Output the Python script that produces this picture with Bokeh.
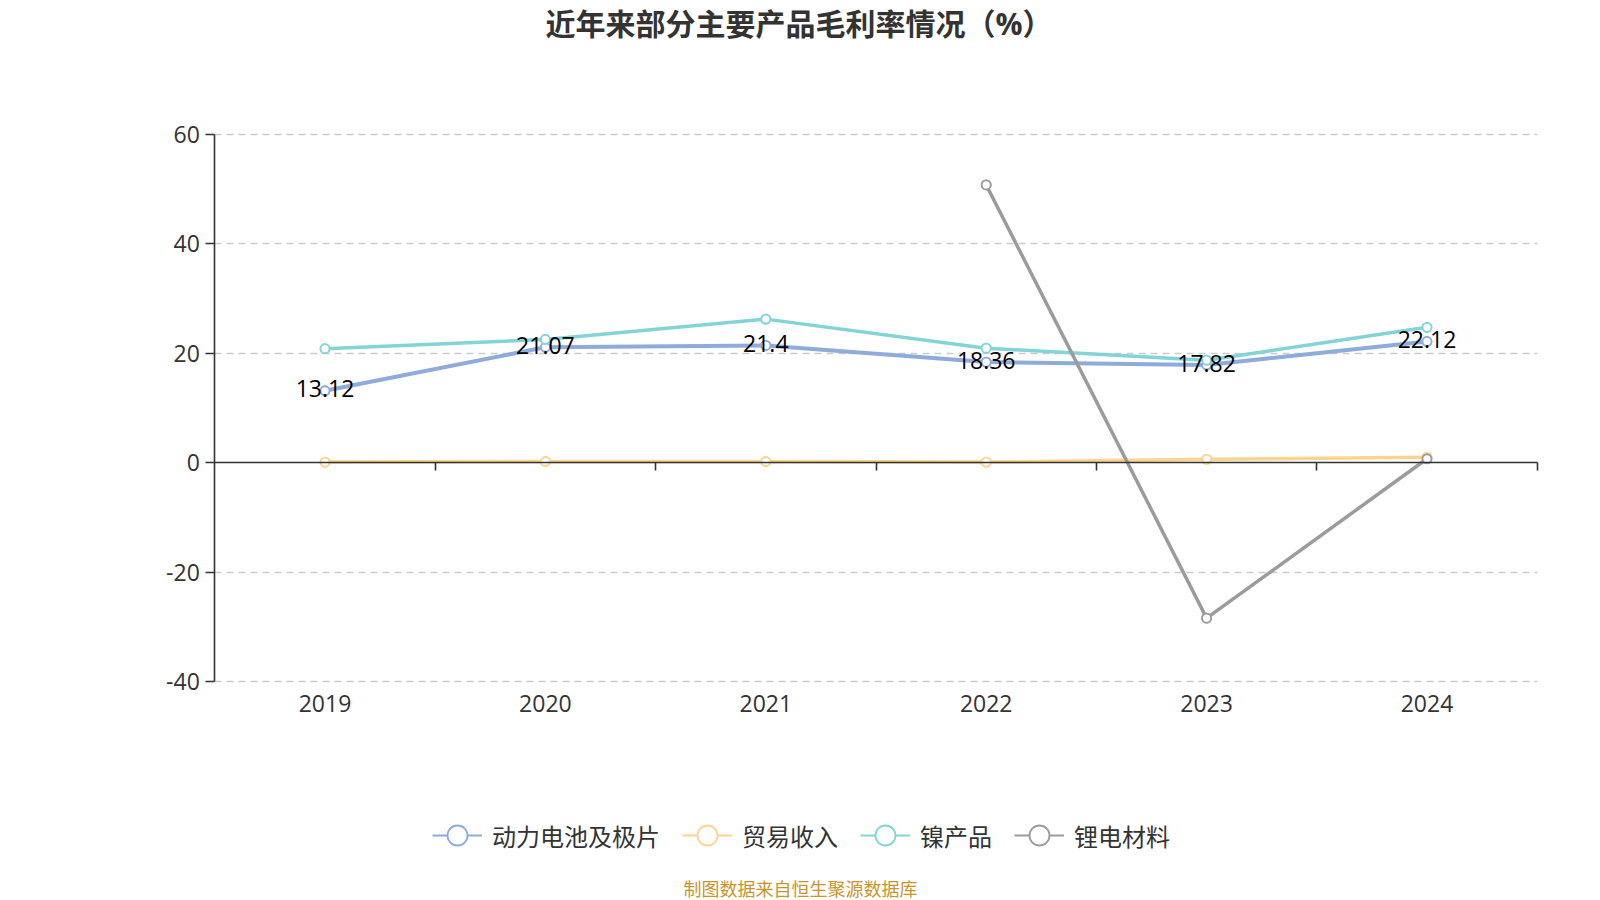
from bokeh.plotting import figure
from bokeh.models import (ColumnDataSource, Range1d, LinearAxis, FixedTicker,
                          Legend, LegendItem, Label, Grid)
from bokeh.embed import file_html
from bokeh.resources import INLINE
from bokeh.core.properties import value

# ---------------- data ----------------
years = ["2019", "2020", "2021", "2022", "2023", "2024"]
battery = [13.12, 21.07, 21.4, 18.36, 17.82, 22.12]      # 动力电池及极片
trade = [0.1, 0.2, 0.2, 0.1, 0.6, 1.0]                   # 贸易收入
nickel = [20.8, 22.5, 26.2, 20.9, 18.7, 24.7]            # 镍产品
lithium_years = ["2022", "2023", "2024"]
lithium = [50.7, -28.4, 0.7]                             # 锂电材料
series_names = ["动力电池及极片", "贸易收入", "镍产品", "锂电材料"]
y_ticks = [-40, -20, 0, 20, 40, 60]
title_text = "近年来部分主要产品毛利率情况（%）"
source_text = "制图数据来自恒生聚源数据库"

# ---------------- style ----------------
FONT = "'Open Sans', 'Noto Sans CJK SC', sans-serif"
CJK = "'Noto Sans CJK SC', sans-serif"
BLUE = "#8eabdc"
ORANGE = "#fdd48f"
TEAL = "#82d4d7"
GRAY = "#9b9b9b"
AXIS = "#333333"

W, H = 1600, 900
# plot area (pixels) inside the full-canvas frame
PX_L, PX_R, PX_T, PX_B = 214.3, 1536.7, 133.5, 681.2
n_cat = len(years)
y_lo, y_hi = min(y_ticks), max(y_ticks)
xpx = (PX_R - PX_L) / n_cat
ypx = (PX_B - PX_T) / (y_hi - y_lo)
x_range = Range1d(-PX_L / xpx, n_cat + (W - PX_R) / xpx)
y_range = Range1d(y_lo - (H - PX_B) / ypx, y_hi + PX_T / ypx)

pos = {y: i + 0.5 for i, y in enumerate(years)}

p = figure(width=W, height=H, x_range=x_range, y_range=y_range,
           output_backend="svg", toolbar_location=None,
           x_axis_location=None, y_axis_location=None,
           min_border_left=0, min_border_right=0, min_border_top=0,
           min_border_bottom=0)
p.outline_line_color = None
p.background_fill_color = "white"
p.border_fill_color = "white"
for g in p.grid:
    g.visible = False

# horizontal dashed grid, limited to the plot area
grid = Grid(dimension=1, ticker=FixedTicker(ticks=[t for t in y_ticks if t != 0]),
            cross_bounds=(0, n_cat), grid_line_color="#cccccc",
            grid_line_dash="7 5", grid_line_width=1.4)
p.add_layout(grid)

# y axis at x = 0
yax = LinearAxis(fixed_location=0, bounds=(y_lo, y_hi), ticker=FixedTicker(ticks=y_ticks),
                 major_label_overrides={t: str(t) for t in y_ticks})
yax.axis_line_color = AXIS
yax.axis_line_width = 1.6
yax.major_tick_line_color = AXIS
yax.major_tick_line_width = 1.6
yax.major_tick_out = 9
yax.major_tick_in = 0
yax.minor_tick_line_color = None
yax.major_label_text_font = FONT
yax.major_label_text_font_size = "23px"
yax.major_label_text_color = AXIS
yax.major_label_standoff = 6
p.add_layout(yax, "left")

# category labels under the plot area
xlab = LinearAxis(fixed_location=y_lo, ticker=FixedTicker(ticks=[pos[y] for y in years]),
                  major_label_overrides={pos[y]: y for y in years})
xlab.axis_line_color = None
xlab.major_tick_line_color = None
xlab.minor_tick_line_color = None
xlab.major_label_text_font = FONT
xlab.major_label_text_font_size = "23px"
xlab.major_label_text_color = AXIS
xlab.major_label_standoff = 7
p.add_layout(xlab, "below")

# zero line with category-boundary ticks (no labels)
z_ticks = list(range(1, n_cat + 1))
zax = LinearAxis(fixed_location=0, bounds=(0, n_cat), ticker=FixedTicker(ticks=z_ticks),
                 major_label_overrides={t: "" for t in z_ticks})
zax.axis_line_color = AXIS
zax.axis_line_width = 1.6
zax.major_tick_line_color = AXIS
zax.major_tick_line_width = 1.6
zax.major_tick_out = 8
zax.major_tick_in = 0
zax.minor_tick_line_color = None
p.add_layout(zax, "below")

# ---------------- series ----------------
def add_series(xcats, vals, color, lw):
    src = ColumnDataSource(dict(x=[pos[c] for c in xcats], y=vals))
    # thin copies underneath (fully covered) used for the legend swatches
    lg_line = p.line("x", "y", source=src, line_color=color, line_width=2)
    lg_dot = p.scatter("x", "y", source=src, size=9, fill_color="white",
                       line_color=color, line_width=1.8)
    p.line("x", "y", source=src, line_color=color, line_width=lw)
    p.scatter("x", "y", source=src, size=9, fill_color="white",
              line_color=color, line_width=1.8)
    return [lg_line, lg_dot]

r_b = add_series(years, battery, BLUE, 4)
r_t = add_series(years, trade, ORANGE, 3.5)
r_n = add_series(years, nickel, TEAL, 3.5)
r_l = add_series(lithium_years, lithium, GRAY, 3.5)

lab_src = ColumnDataSource(dict(x=[pos[y] for y in years], y=battery,
                                label=[f"{v:g}" for v in battery]))
p.text("x", "y", text="label", source=lab_src, text_font=value(FONT),
       text_font_size="23px", text_align="center", text_baseline="middle",
       text_color="black", y_offset=-2)

# ---------------- legend ----------------
items = [LegendItem(label=n, renderers=r) for n, r in
         zip(series_names, [r_b, r_t, r_n, r_l])]
legend = Legend(items=items, orientation="horizontal", location=(432, 40),
                glyph_width=50, glyph_height=50, label_text_font=CJK,
                label_text_font_size="24px", label_text_color=AXIS,
                label_standoff=10, spacing=22, padding=0, margin=0,
                border_line_color=None, background_fill_alpha=0)
p.add_layout(legend)

# ---------------- title & source ----------------
p.add_layout(Label(x=545, y=H - 22.5, x_units="screen", y_units="screen",
                   text=title_text, text_font=FONT, text_font_size="30px",
                   text_font_style="bold", text_color=AXIS,
                   text_align="left", text_baseline="middle"))
p.add_layout(Label(x=800, y=H - 887, x_units="screen", y_units="screen",
                   text=source_text, text_font=CJK, text_font_size="18px",
                   text_color="#c8952c", text_align="center",
                   text_baseline="middle"))

open("out.html", "w").write(file_html(p, INLINE))
